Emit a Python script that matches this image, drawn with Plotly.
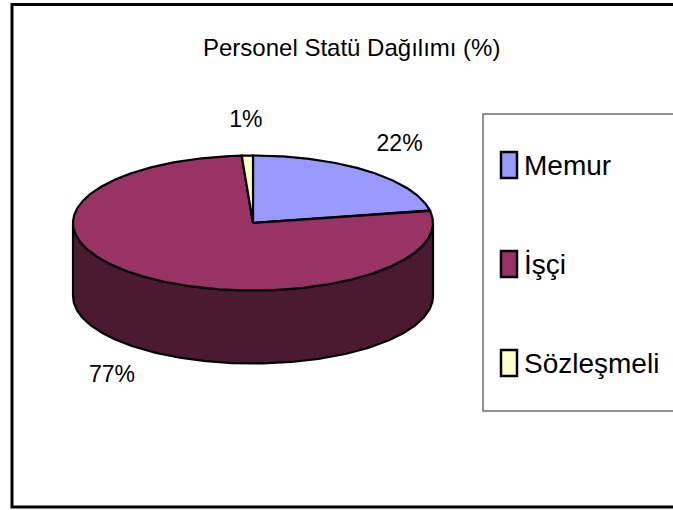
import numpy as np
import plotly.graph_objects as go

# ---- data ----
categories = ["Memur", "İşçi", "Sözleşmeli"]
values = [22, 77, 1]
title_text = "Personel Statü Dağılımı (%)"

# ---- style ----
top_colors = ["#9999FF", "#993366", "#FFFFCC"]
side_colors = ["#4C4C80", "#4C1933", "#808066"]
FONT = "Liberation Sans, Arial, sans-serif"
W, H = 673, 510

# pie geometry (pixel space)
CX, CY, RX, RY, DEPTH = 253, 223, 180, 67.5, 73
LBL_RX, LBL_RY = RX + 50, RY + 34


def pt(theta_deg, dy=0.0):
    t = np.radians(theta_deg)
    return CX + RX * np.sin(t), CY - RY * np.cos(t) + dy


total = float(sum(values))
bounds = np.concatenate([[0.0], np.cumsum(values) / total * 360.0])

fig = go.Figure()

# side walls (front half only: 90..270 deg clockwise from top)
for i, cat in enumerate(categories):
    a0, a1 = bounds[i], bounds[i + 1]
    s, e = max(a0, 90.0), min(a1, 270.0)
    if e <= s:
        continue
    th = np.linspace(s, e, 200)
    xt, yt = pt(th)
    xb, yb = pt(th[::-1], DEPTH)
    xs = np.concatenate([xt, xb, xt[:1]])
    ys = np.concatenate([yt, yb, yt[:1]])
    fig.add_trace(go.Scatter(x=xs, y=ys, mode="lines", fill="toself",
                             fillcolor=side_colors[i],
                             line=dict(color="black", width=2.2),
                             hoverinfo="skip", showlegend=False))

# top faces
for i, cat in enumerate(categories):
    a0, a1 = bounds[i], bounds[i + 1]
    th = np.linspace(a0, a1, max(int((a1 - a0) * 2), 4))
    xa, ya = pt(th)
    xs = np.concatenate([[CX], xa, [CX]])
    ys = np.concatenate([[CY], ya, [CY]])
    fig.add_trace(go.Scatter(x=xs, y=ys, mode="lines", fill="toself",
                             fillcolor=top_colors[i],
                             line=dict(color="black", width=2.2),
                             name=cat, hoverinfo="name", showlegend=False))

# percent labels
lx, ly, lt = [], [], []
for i, v in enumerate(values):
    mid = np.radians((bounds[i] + bounds[i + 1]) / 2)
    x = CX + LBL_RX * np.sin(mid)
    y = CY - LBL_RY * np.cos(mid)
    if np.cos(mid) < 0:
        y += DEPTH
    lx.append(x)
    ly.append(y)
    lt.append(f"{round(v / total * 100)}%")
fig.add_trace(go.Scatter(x=lx, y=ly, mode="text", text=lt,
                         textfont=dict(family=FONT, size=23, color="black"),
                         hoverinfo="skip", showlegend=False))

shapes = []
annotations = []
# outer frame
shapes.append(dict(type="rect", xref="x", yref="y", x0=12, y0=4.5, x1=690, y1=507,
                   line=dict(color="black", width=3), fillcolor="rgba(0,0,0,0)", layer="below"))
# legend box
LEG_X0, LEG_Y0, LEG_Y1 = 483, 114, 411
shapes.append(dict(type="rect", xref="x", yref="y", x0=LEG_X0, y0=LEG_Y0, x1=700, y1=LEG_Y1,
                   line=dict(color="#6e6e6e", width=1.5), fillcolor="white", layer="below"))
LEG_FIRST, LEG_STEP = 165, 99
for i, cat in enumerate(categories):
    yc = LEG_FIRST + i * LEG_STEP
    shapes.append(dict(type="rect", xref="x", yref="y", x0=501, x1=517, y0=yc - 13, y1=yc + 13,
                       line=dict(color="black", width=2.5), fillcolor=top_colors[i], layer="above"))
    annotations.append(dict(x=522, y=yc, xref="x", yref="y", text=cat, showarrow=False,
                            xanchor="left", yanchor="middle",
                            font=dict(family=FONT, size=28, color="black")))

annotations.append(dict(x=351, y=47, xref="x", yref="y", text=title_text, showarrow=False,
                        xanchor="center", yanchor="middle",
                        font=dict(family=FONT, size=24, color="black")))

fig.update_layout(
    width=W, height=H,
    margin=dict(l=0, r=0, t=0, b=0),
    paper_bgcolor="white", plot_bgcolor="white",
    xaxis=dict(range=[0, W], visible=False, fixedrange=True),
    yaxis=dict(range=[H, 0], visible=False, fixedrange=True),
    shapes=shapes, annotations=annotations,
    showlegend=False,
)

fig.write_html("out.html", config={"displayModeBar": False},
               post_script="document.body.style.margin='0';document.body.style.overflow='hidden';")
